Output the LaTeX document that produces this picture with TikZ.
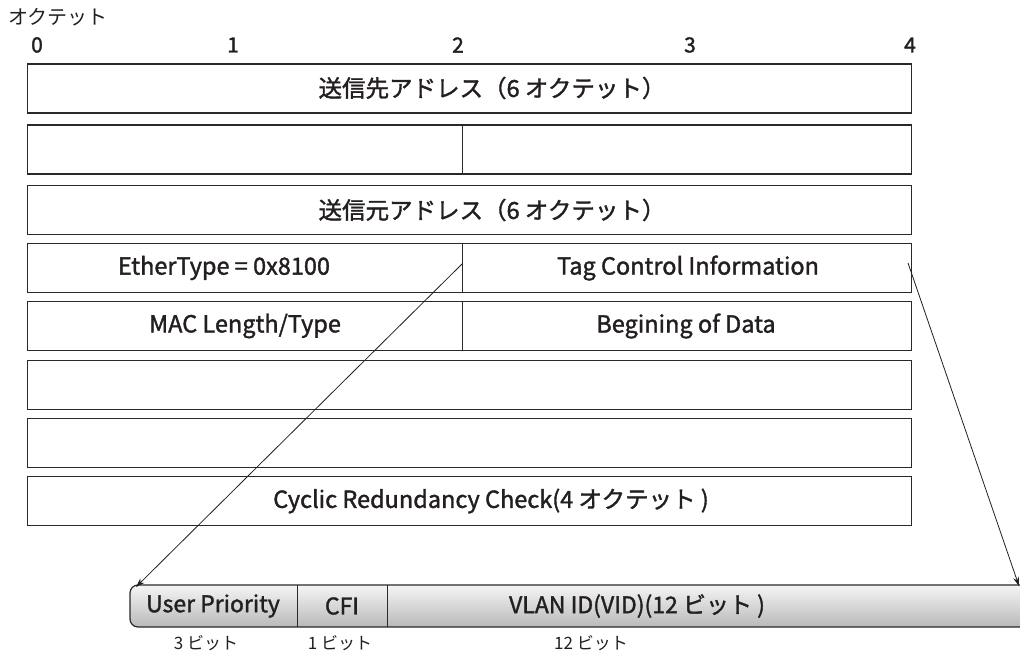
\documentclass[tikz,border=0pt]{standalone}
\usepackage{fontspec}
\setmainfont{Noto Sans CJK JP}[FakeBold=1.5]
\newfontfamily\lightjp{Noto Sans CJK JP}
\usetikzlibrary{arrows.meta}
\definecolor{ink}{RGB}{35,31,32}
\definecolor{edge}{RGB}{45,40,40}
\begin{document}
\begin{tikzpicture}[x=1pt,y=-1pt,
  cell/.style={draw=edge,line width=1.3pt,fill=white,minimum height=49pt,inner sep=0pt,anchor=north west},
  lbl/.style={text=ink,inner sep=0pt,font=\fontsize{23.5}{27}\selectfont},
  barlbl/.style={text=ink,inner sep=0pt,font=\fontsize{23}{27}\selectfont},
  sub/.style={text=ink,inner sep=0pt,font=\lightjp\fontsize{17}{20}\selectfont},
  col/.style={text=ink,inner sep=0pt,font=\fontsize{21}{24}\selectfont},
  link/.style={draw=ink,line width=0.8pt,-{Stealth[length=9pt,width=6pt]}}]
\useasboundingbox (0,0) rectangle (1020,655);

% header
\node[text=ink,inner sep=0pt,anchor=west,font=\lightjp\fontsize{20}{24}\selectfont] (hdr) at (8,17) {オクテット};
\node[col] (c0) at (37,45) {0};
\node[col] (c1) at (233,45) {1};
\node[col] (c2) at (458,45) {2};
\node[col] (c3) at (690,45) {3};
\node[col] (c4) at (910,45) {4};

% rows
\node[cell,minimum width=884pt,minimum height=49pt] (r1) at (27,63.5) {};
\node[cell,minimum width=435pt] (r2a) at (27,124.5) {};
\node[cell,minimum width=449pt] (r2b) at (462,124.5) {};
\node[cell,minimum width=884pt] (r3) at (27,185) {};
\node[cell,minimum width=435pt] (r4a) at (27,243) {};
\node[cell,minimum width=449pt] (r4b) at (462,243) {};
\node[cell,minimum width=435pt] (r5a) at (27,300.5) {};
\node[cell,minimum width=449pt] (r5b) at (462,300.5) {};
\node[cell,minimum width=884pt] (r6) at (27,359.5) {};
\node[cell,minimum width=884pt] (r7) at (27,417.5) {};
\node[cell,minimum width=884pt] (r8) at (27,476) {};

% texts
\node[lbl] (t1) at (492,88) {送信先アドレス（6 オクテット）};
\node[lbl] (t3) at (492,210) {送信元アドレス（6 オクテット）};
\node[lbl] (t4a) at (224,268) {EtherType = 0x8100};
\node[lbl] (t4b) at (688,268) {Tag Control Information};
\node[lbl] (t5a) at (245,326) {MAC Length/Type};
\node[lbl] (t5b) at (686,326) {Begining of Data};
\node[lbl] (t8) at (491,501) {Cyclic Redundancy Check(4 オクテット )};

% tag control bar
\path[draw=edge,line width=1.2pt,top color=gray!8,bottom color=gray!55]
  (1022,585) -- (138,585) to[out=180,in=90] (130,593) -- (130,619)
  to[out=-90,in=180] (138,627) -- (1022,627);
\node[inner sep=0pt,minimum width=167pt,minimum height=42pt,anchor=north west] (up) at (130,585) {};
\node[inner sep=0pt,minimum width=90pt,minimum height=42pt,anchor=north west] (cfi) at (297,585) {};
\node[inner sep=0pt,minimum width=633pt,minimum height=42pt,anchor=north west] (vid) at (387,585) {};
\draw[edge,line width=1pt] (up.north east) -- (up.south east);
\draw[edge,line width=1pt] (cfi.north east) -- (cfi.south east);
\node[barlbl] (tup) at (213,606) {User Priority};
\node[barlbl] (tcfi) at (342,606) {CFI};
\node[barlbl] (tvid) at (637,606) {VLAN ID(VID)(12 ビット )};
\node[sub] (b3) at (206,643) {3 ビット};
\node[sub] (b1) at (340,643) {1 ビット};
\node[sub] (b12) at (591,643) {12 ビット};

% connectors
\coordinate (s1) at (462,264);
\coordinate (s2) at (908,263);
\coordinate (e1) at (136,587);
\coordinate (e2) at (1019,586);
\draw[link] (s1) -- (e1);
\draw[link] (s2) -- (e2);
\end{tikzpicture}
\end{document}
